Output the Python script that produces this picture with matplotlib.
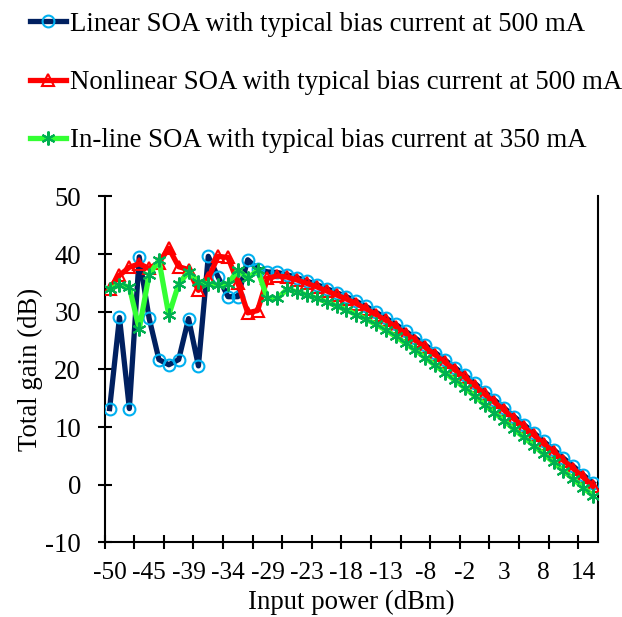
import matplotlib
matplotlib.use("Agg")
import matplotlib.pyplot as plt
import numpy as np

plt.rcParams['font.family'] = ['Liberation Serif', 'DejaVu Serif']
plt.rcParams['axes.unicode_minus'] = False

tick_labels = ["-50", "-45", "-39", "-34", "-29", "-23", "-18", "-13", "-8", "-2", "3", "8", "14"]

linear = [13.2, 29.0, 13.2, 39.5, 28.9, 21.7, 20.8, 21.7, 28.8, 20.6,
          39.6, 36.0, 32.6, 32.6, 39.0, 37.4, 36.9, 36.8, 36.4, 35.9,
          35.3, 34.7, 34.0, 33.3, 32.6, 31.8, 30.9, 29.9, 28.9, 27.8,
          26.6, 25.4, 24.2, 22.9, 21.6, 20.3, 19.0, 17.6, 16.1, 14.7,
          13.3, 11.8, 10.4, 9.0, 7.5, 6.1, 4.6, 3.2, 1.7, 0.3]

nonlinear = [34.0, 36.3, 37.7, 38.3, 37.5, 38.5, 41.0, 37.8, 37.3, 33.7,
             35.8, 39.6, 39.4, 35.0, 29.8, 30.2, 35.8, 36.2, 36.0, 35.5,
             34.9, 34.3, 33.6, 32.9, 32.2, 31.4, 30.5, 29.5, 28.5, 27.4,
             26.2, 25.0, 23.8, 22.5, 21.2, 19.9, 18.6, 17.2, 15.7, 14.3,
             12.9, 11.4, 10.0, 8.6, 7.1, 5.7, 4.2, 2.8, 1.3, -0.3]

inline = [34.0, 34.6, 34.3, 27.0, 36.4, 38.9, 29.4, 34.8, 36.9, 35.2,
          34.8, 34.6, 34.8, 37.2, 35.8, 37.2, 32.3, 32.3, 33.9, 33.4,
          32.9, 32.3, 31.7, 31.0, 30.3, 29.5, 28.7, 27.8, 26.8, 25.7,
          24.5, 23.3, 22.0, 20.7, 19.4, 18.1, 16.8, 15.4, 13.9, 12.5,
          11.1, 9.6, 8.2, 6.8, 5.3, 3.9, 2.4, 1.0, -0.5, -1.9]

labels = ["Linear SOA with typical bias current at 500 mA",
          "Nonlinear SOA with typical bias current at 500 mA",
          "In-line SOA with typical bias current at 350 mA"]

FS = 19.3
XFS = 18.3

fig = plt.figure(figsize=(6.22, 6.17), dpi=100)
ax = fig.add_axes([0.1683, 0.1209, 0.7931, 0.5609])

x = np.arange(len(linear))
ax.plot(x, linear, color="#002060", lw=3.8, marker="o", ms=8.5, mfc="none",
        mec="#00B0F0", mew=1.5, label=labels[0], zorder=3)
ax.plot(x, nonlinear, color="#FF0000", lw=3.8, marker="^", ms=8.5, mfc="none",
        mec="#FF0000", mew=1.5, label=labels[1], zorder=4)
ax.plot(x, inline, color="#33FF33", lw=3.8, marker=(6, 2, 0), ms=10,
        mec="#00B050", mew=1.5, label=labels[2], zorder=5)

ax.set_xlim(-0.5, len(linear) - 0.5)
ax.set_ylim(-10, 50)
ax.set_yticks(np.arange(-10, 51, 10))

ax.set_xticks(np.arange(-0.5, len(linear), 3))
ax.set_xticklabels([])
ax.set_xticks(np.arange(0, len(linear), 4), minor=True)
ax.set_xticklabels(tick_labels, minor=True)
ax.tick_params(axis="x", which="major", direction="inout", length=10, width=1.5)
ax.tick_params(axis="x", which="minor", length=0, pad=14, labelsize=XFS)
ax.tick_params(axis="y", direction="inout", length=10, width=1.5, pad=12, labelsize=FS)

for s in ["left", "bottom", "right"]:
    ax.spines[s].set_linewidth(1.5)
ax.spines["top"].set_visible(False)

ax.set_xlabel("Input power (dBm)", fontsize=FS, labelpad=4)
ax.set_ylabel("Total gain (dB)", fontsize=FS, labelpad=2)

fig.legend(loc="upper left", bbox_to_anchor=(0.048, 0.981), frameon=False,
           fontsize=FS, handlelength=1.35, handletextpad=0.15, labelspacing=1.24,
           borderpad=0, borderaxespad=0)

fig.savefig("out.png", dpi=100)
